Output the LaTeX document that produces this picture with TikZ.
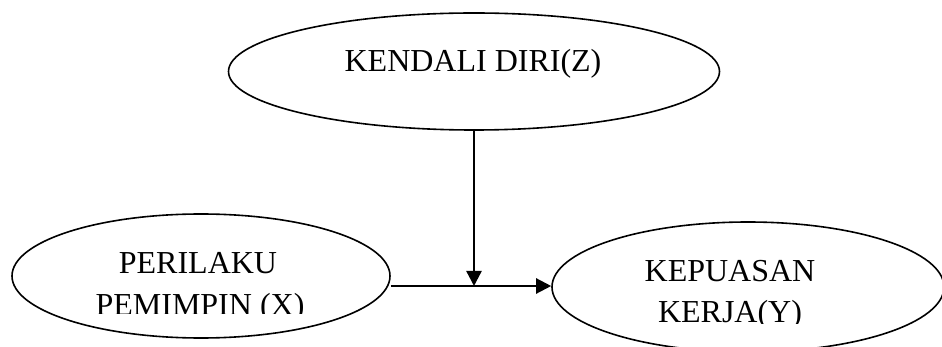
\documentclass[tikz,border=0pt]{standalone}
\usepackage{fontspec}
\setmainfont{Liberation Serif}
\usetikzlibrary{arrows.meta,shapes.geometric}
\begin{document}
\begin{tikzpicture}[x=1pt,y=-1pt,
  var/.style={draw=black,line width=1.6pt,ellipse,inner sep=0pt},
  lbl/.style={anchor=base,inner sep=0pt,font=\fontsize{32}{41}\selectfont},
  arr/.style={line width=2.3pt,-{Triangle[length=15pt,width=15pt]}}]
  \useasboundingbox (0,0) rectangle (942,347);
  % variable ellipses
  \node[var,minimum width=491pt,minimum height=117pt] (z) at (474,71.5) {};
  \node[var,minimum width=378pt,minimum height=124pt] (x) at (201,276) {};
  \node[var,minimum width=392pt,minimum height=130pt] (y) at (748,287) {};
  % labels, cut off at the bottom of their text boxes
  \node[lbl] (zt) at (473,72) {KENDALI DIRI(Z)};
  \begin{scope}
    \clip (0,200) rectangle (420,313);
    \node[lbl] (xa) at (198,274) {PERILAKU};
    \node[lbl] (xb) at (200,315) {PEMIMPIN (X)};
  \end{scope}
  \begin{scope}
    \clip (560,200) rectangle (942,323);
    \node[lbl] (ya) at (730,282) {KEPUASAN};
    \node[lbl] (yb) at (730,322) {KERJA(Y)};
  \end{scope}
  % connectors
  \coordinate (j) at (474,286);
  \draw[arr] (z.south) -- (j);
  \draw[arr] (x.east |- j) -- (y.west |- j);
\end{tikzpicture}
\end{document}
